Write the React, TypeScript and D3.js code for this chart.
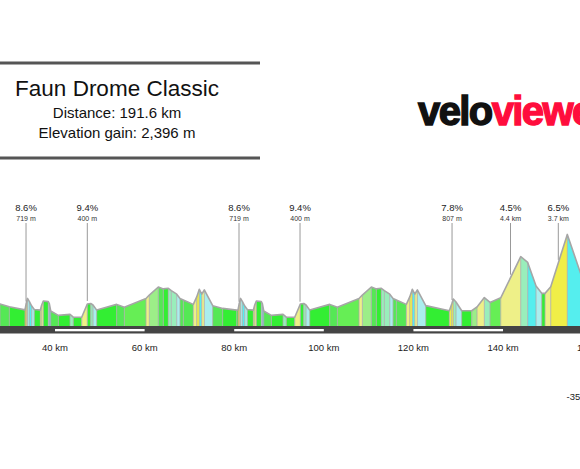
import React from 'react';
import * as d3 from 'd3';

// header texts
const raceTitle = 'Faun Drome Classic';
const raceDistance = 'Distance: 191.6 km';
const raceGain = 'Elevation gain: 2,396 m';
const totalKm = 191.6;

// elevation profile (km, metres)
const profileKm = [
  25.04, 27.72, 29.8, 33.3, 33.59, 33.86, 34.26, 34.8, 35.38, 36.72, 37.03, 37.39, 38.5, 38.73, 39.04,
  40.74, 43.35, 44.08, 45.96, 47.21, 47.97, 48.48, 49.31, 53.77, 55.47, 60.31, 61.05, 63.06, 64.17,
  65.29, 65.96, 67.17, 67.9, 68.64, 70.87, 71.63, 72.21, 72.75, 73.33, 75.2, 77.43, 80.56,
  80.85, 81.14, 81.41, 81.81, 82.35, 82.93, 84.27, 84.58, 84.94, 86.05, 86.28, 86.59, 88.29, 90.9,
  91.63, 93.51, 94.76, 95.52, 96.03, 96.86, 101.32, 103.02, 107.86, 108.6, 110.61, 111.72, 112.84,
  113.51, 114.72, 115.45, 116.19, 118.42, 119.18, 119.76, 120.3, 120.88, 122.75,
  128.01, 128.55, 128.91, 129.51, 130.78, 133.01, 134.2, 135.83, 137.1, 139.49, 143.95, 145.51,
  147.37, 148.64, 149.38, 150.65, 154.35, 159.87,
];
const profileElev = [
  220, 204, 191, 176, 208, 230, 216, 194, 178, 175, 199, 218, 215, 206, 171,
  150, 155, 142, 141, 204, 206, 199, 175, 202, 188, 230, 246, 284, 275,
  278, 267, 250, 230, 223, 202, 237, 273, 250, 270, 196, 183, 175,
  176, 208, 230, 216, 194, 178, 175, 199, 218, 215, 206, 171, 150, 155,
  142, 141, 204, 206, 199, 175, 202, 188, 230, 246, 284, 275, 278,
  267, 250, 230, 223, 202, 237, 273, 250, 270, 196,
  172, 204, 227, 213, 172, 172, 190, 234, 211, 233, 427, 400,
  289, 254, 254, 285, 532, 190,
];

// marked climbs
const climbKm = [33.53, 47.21, 81.07, 94.69, 128.62, 141.67, 152.34];
const climbGrade = ['8.6%', '9.4%', '8.6%', '9.4%', '7.8%', '4.5%', '6.5%'];
const climbLength = ['719 m', '400 m', '719 m', '400 m', '807 m', '4.4 km', '3.7 km'];

const distanceTicks = [40, 60, 80, 100, 120, 140, 160];
const cornerNote = '-35';

// gradient (%) -> fill colour
const gradeBreaks = [-7, -4, -2.5, -1.3, -0.5, 0.7, 1.2, 2, 5.5, 9];
const gradeColors = [
  '#48aef0', '#55eeee', '#aaeeee', '#99eebb', '#55e855', '#33ee33',
  '#66ee55', '#9cee88', '#eef088', '#f0ee48', '#f0c430',
];

const W = 580;
const H = 469;
const base = 326;

export default function App() {
  const x = d3.scaleLinear().domain([0, totalKm]).range([-124.2, 734.2]);
  const y = d3.scaleLinear().domain([100, 600]).range([base, 220]);
  const color = d3.scaleThreshold<number, string>().domain(gradeBreaks).range(gradeColors);

  const pts = profileKm.map((k, i) => ({ km: k, elev: profileElev[i] }));
  const segs = d3.pairs(pts).map(([a, b]) => ({
    a,
    b,
    grade: ((b.elev - a.elev) / ((b.km - a.km) * 1000)) * 100,
  }));

  const outline = d3
    .line<{ km: number; elev: number }>()
    .x((d) => x(d.km))
    .y((d) => y(d.elev))(pts);

  const elevAt = (km: number) => {
    const i = d3.bisector((d: { km: number }) => d.km).right(pts, km);
    const a = pts[Math.max(0, i - 1)];
    const b = pts[Math.min(pts.length - 1, i)];
    if (a === b) return a.elev;
    return a.elev + ((km - a.km) / (b.km - a.km)) * (b.elev - a.elev);
  };

  const barStarts = d3.range(0, totalKm, 40);

  return (
    <svg
      width={W}
      height={H}
      style={{ position: 'absolute', left: 0, top: 0, display: 'block', background: '#fff' }}
      fontFamily="'Liberation Sans', Arial, sans-serif"
    >
      {/* title block */}
      <rect x={0} y={61.5} width={260} height={3} fill="#555" />
      <rect x={0} y={156.5} width={260} height={3} fill="#555" />
      <text x={117} y={96} textAnchor="middle" fontSize={22.5} fill="#111">
        {raceTitle}
      </text>
      <text x={117} y={118} textAnchor="middle" fontSize={15} fill="#111">
        {raceDistance}
      </text>
      <text x={117} y={137.5} textAnchor="middle" fontSize={15} fill="#111">
        {raceGain}
      </text>

      {/* logo */}
      <text x={418} y={125} fontSize={40} fontWeight={900} letterSpacing={-1.6} strokeWidth={1.4}>
        <tspan fill="#111" stroke="#111">velo</tspan>
        <tspan fill="#ff0d3d" stroke="#ff0d3d">viewer</tspan>
      </text>

      {/* profile */}
      <g>
        {segs.map((s, i) => (
          <path
            key={i}
            d={`M${x(s.a.km)},${base}L${x(s.a.km)},${y(s.a.elev)}L${x(s.b.km)},${y(s.b.elev)}L${x(s.b.km)},${base}Z`}
            fill={color(s.grade)}
          />
        ))}
        {pts.slice(1, -1).map((p, i) => (
          <line
            key={i}
            x1={x(p.km)}
            x2={x(p.km)}
            y1={base}
            y2={y(p.elev)}
            stroke="#aaa"
            strokeWidth={0.8}
          />
        ))}
        <path d={outline || ''} fill="none" stroke="#a6a6a6" strokeWidth={1.6} strokeLinejoin="round" />
      </g>

      {/* climb markers */}
      {climbKm.map((k, i) => (
        <g key={i}>
          <line
            x1={x(k)}
            x2={x(k)}
            y1={223}
            y2={y(elevAt(k)) - 3}
            stroke="#999"
            strokeWidth={1}
          />
          <text x={x(k)} y={211} textAnchor="middle" fontSize={9.5} fill="#222">
            {climbGrade[i]}
          </text>
          <text x={x(k)} y={220.5} textAnchor="middle" fontSize={7} fill="#333">
            {climbLength[i]}
          </text>
        </g>
      ))}

      {/* distance band */}
      <rect x={0} y={base} width={W} height={7.5} fill="#444" />
      {barStarts.map((s) => (
        <rect key={s} x={x(s)} y={329} width={x(s + 20) - x(s)} height={2.3} fill="#fff" />
      ))}
      {distanceTicks.map((t) => (
        <text key={t} x={x(t)} y={350.5} textAnchor="middle" fontSize={9.5} fill="#222">
          {`${t} km`}
        </text>
      ))}
      <text x={566.5} y={400} fontSize={9.5} fill="#222">
        {cornerNote}
      </text>
    </svg>
  );
}
